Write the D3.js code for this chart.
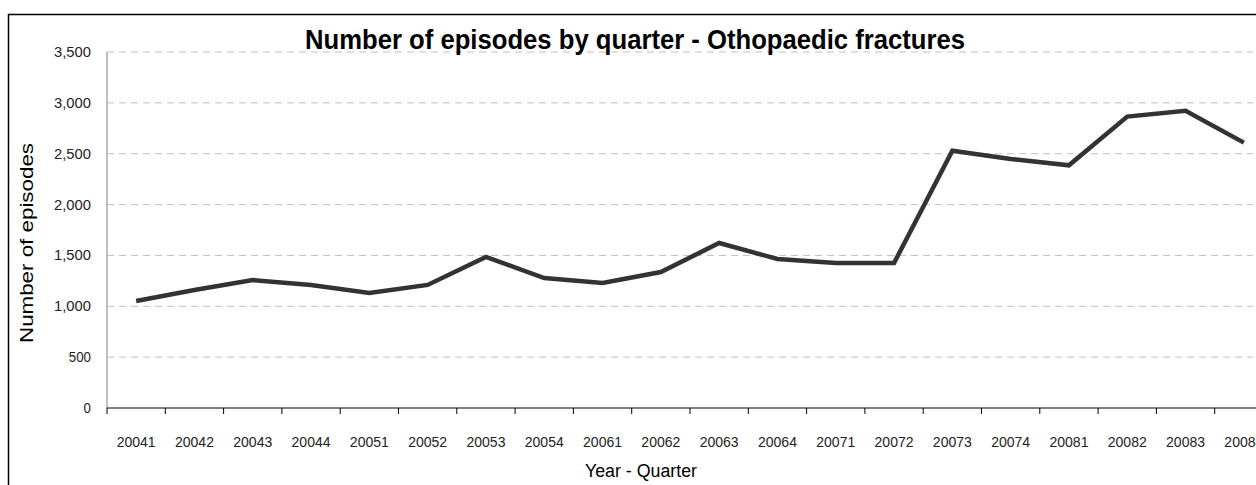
<!DOCTYPE html>
<html><head><meta charset="utf-8">
<script src="https://cdn.jsdelivr.net/npm/d3@7"></script>
<style>body{margin:0;background:#fff}text{font-family:"Liberation Sans",Arial,sans-serif}</style>
</head><body><svg id="c" width="1256" height="485"></svg>
<script>
const categories=["20041","20042","20043","20044","20051","20052","20053","20054","20061","20062","20063","20064","20071","20072","20073","20074","20081","20082","20083","20084"];
const values=[1052,1160,1258,1210,1130,1210,1485,1278,1229,1337,1622,1465,1426,1426,2530,2448,2386,2865,2923,2609];
const yTicks=[0,500,1000,1500,2000,2500,3000,3500];
const svg=d3.select("#c");
svg.append("rect").attr("x",8.5).attr("y",14.5).attr("width",1300).attr("height",500).attr("fill","none").attr("stroke","#000").attr("stroke-width",1.5);
const x0=107, bw=58.3;
const x=d3.scaleBand().domain(categories).range([x0,x0+bw*categories.length]);
const y=d3.scaleLinear().domain([0,3500]).range([408,52]);
const g=svg.append("g");
yTicks.filter(t=>t>0).forEach(t=>g.append("line").attr("x1",x0).attr("x2",1253).attr("y1",y(t)).attr("y2",y(t)).attr("stroke","#c0c0c0").attr("stroke-dasharray","7,5"));
yTicks.forEach(t=>{const s=d3.format(",")(t);g.append("text").attr("x",x0-16).attr("y",y(t)+5).attr("text-anchor","end").attr("font-size",15).attr("fill","#222").attr("textLength",s.length*7.4).attr("lengthAdjust","spacingAndGlyphs").text(s);});
g.append("line").attr("x1",x0).attr("x2",x0).attr("y1",52).attr("y2",408).attr("stroke","#808080").attr("stroke-width",1);
g.append("line").attr("x1",x0).attr("x2",1256).attr("y1",408).attr("y2",408).attr("stroke","#000");
categories.forEach((c,i)=>{const tx=x(c);g.append("line").attr("x1",tx).attr("x2",tx).attr("y1",408).attr("y2",414).attr("stroke","#000");
g.append("text").attr("x",tx+x.bandwidth()/2).attr("y",447).attr("text-anchor","middle").attr("font-size",15).attr("fill","#222").attr("textLength",39).attr("lengthAdjust","spacingAndGlyphs").text(c);});
const line=d3.line().x((d,i)=>x(categories[i])+x.bandwidth()/2).y(d=>y(d));
g.append("path").attr("d",line(values)).attr("fill","none").attr("stroke","#333").attr("stroke-width",4.5).attr("stroke-linejoin","miter");
svg.append("text").attr("x",635).attr("y",49).attr("text-anchor","middle").attr("font-size",27).attr("font-weight","bold").attr("textLength",660).attr("lengthAdjust","spacingAndGlyphs").text("Number of episodes by quarter - Othopaedic fractures");
svg.append("text").attr("transform","translate(33,243) rotate(-90)").attr("text-anchor","middle").attr("font-size",19).attr("textLength",200).attr("lengthAdjust","spacingAndGlyphs").text("Number of episodes");
svg.append("text").attr("x",641).attr("y",477).attr("text-anchor","middle").attr("font-size",18).attr("textLength",112).attr("lengthAdjust","spacingAndGlyphs").text("Year - Quarter");
</script></body></html>
